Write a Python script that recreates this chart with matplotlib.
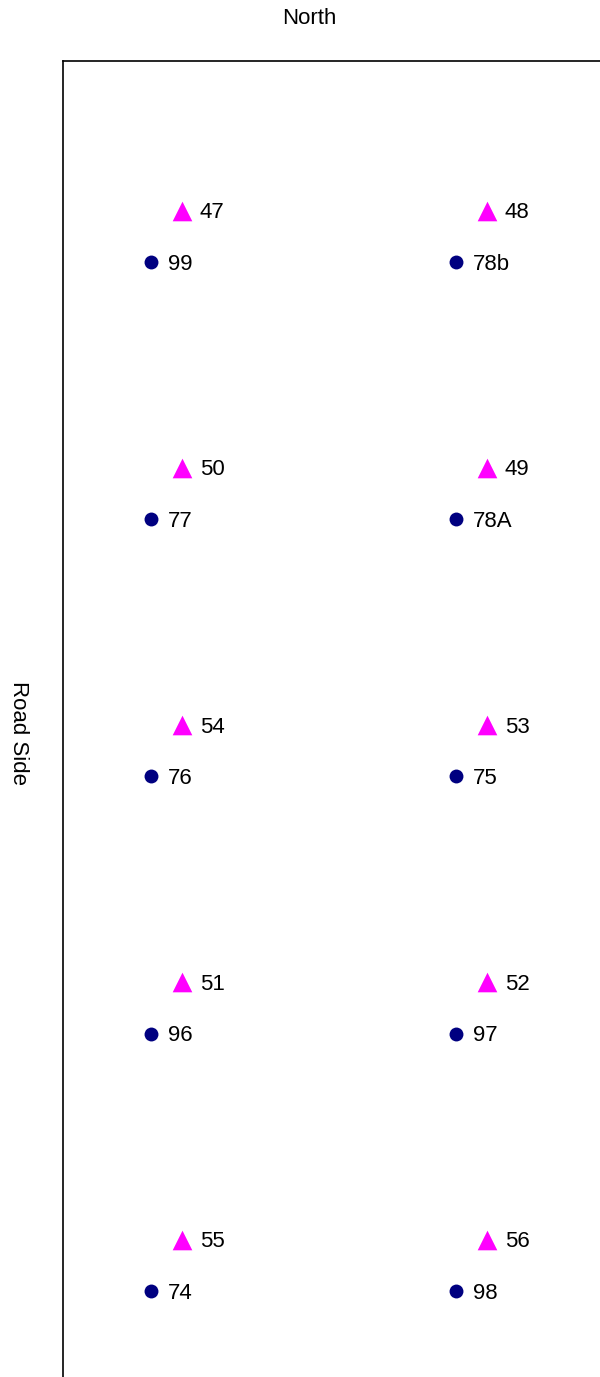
import matplotlib
matplotlib.use('Agg')
import matplotlib.pyplot as plt

plt.rcParams['font.family'] = ['Liberation Sans', 'DejaVu Sans']

# plot layout: two columns, five rows (row 5 is the north end)
circle_x = [1, 2, 1, 2, 1, 2, 1, 2, 1, 2]
circle_y = [5, 5, 4, 4, 3, 3, 2, 2, 1, 1]
circle_labels = ['99', '78b', '77', '78A', '76', '75', '96', '97', '74', '98']

tri_x = [1.1, 2.1, 1.1, 2.1, 1.1, 2.1, 1.1, 2.1, 1.1, 2.1]
tri_y = [5.2, 5.2, 4.2, 4.2, 3.2, 3.2, 2.2, 2.2, 1.2, 1.2]
tri_labels = ['47', '48', '50', '49', '54', '53', '51', '52', '55', '56']

fs = 16

fig = plt.figure(figsize=(6, 13.77), dpi=100)
ax = fig.add_axes([63/600, 0, 1 - 63/600, 1 - 61/1377])

ax.scatter(circle_x, circle_y, s=100, c='#000080', marker='o', linewidths=0)
ax.scatter(tri_x, tri_y, s=200, c='#ff00ff', marker='^', linewidths=0)

for x, y, t in zip(circle_x, circle_y, circle_labels):
    ax.annotate(t, (x, y), xytext=(12, -1.5), textcoords='offset points',
                va='center', ha='left', fontsize=fs)
for x, y, t in zip(tri_x, tri_y, tri_labels):
    ax.annotate(t, (x, y), xytext=(13.2, -1.5), textcoords='offset points',
                va='center', ha='left', fontsize=fs)

ax.set_xlim(1 - 88/305, 1 + 449/305)
ax.set_ylim(1 - 86/257.25, 5 + 201/257.25)
ax.set_xticks([])
ax.set_yticks([])
ax.spines['right'].set_visible(False)
ax.spines['bottom'].set_visible(False)
ax.spines['left'].set_linewidth(1.2)
ax.spines['top'].set_linewidth(1.2)

fig.text(309/600, 1 - 18/1377, 'North', ha='center', va='center', fontsize=fs)
fig.text(18/600, 1 - 733/1377, 'Road Side', ha='center', va='center',
         rotation=-90, fontsize=fs)

fig.savefig('out.png', dpi=100)
